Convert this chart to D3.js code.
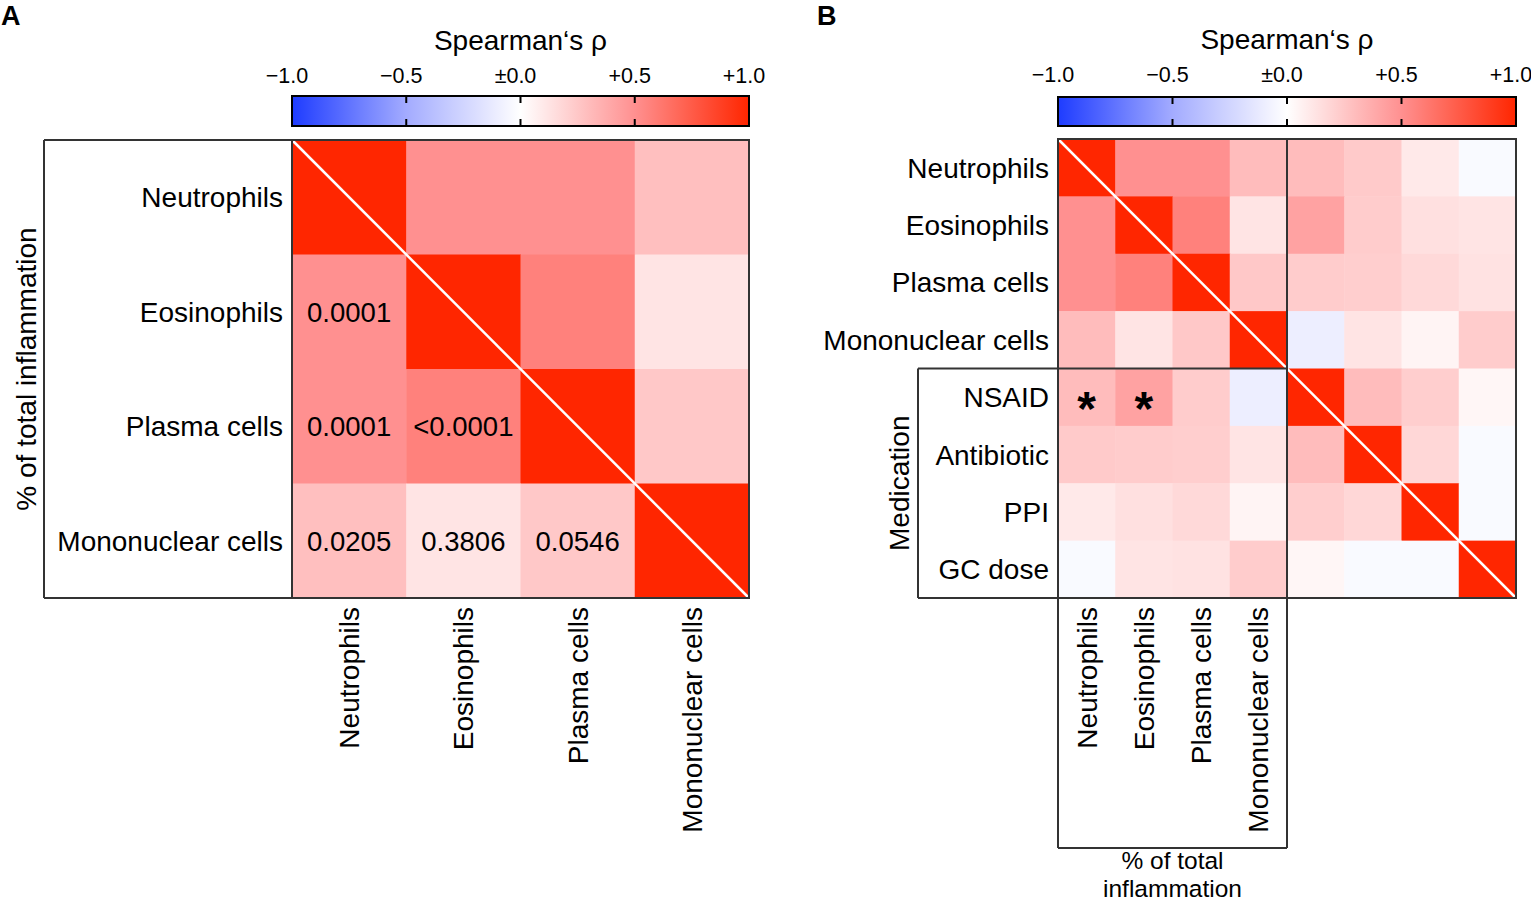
<!DOCTYPE html><html><head><meta charset="utf-8">
<title>Spearman correlation heatmaps</title>
<script src="https://cdn.jsdelivr.net/npm/d3@7"></script>
<style>
body { margin: 0; background: #fff; }
text { font-family: "Liberation Sans", Arial, sans-serif; fill: #000; }
</style>
</head>
<body>
<div id="chart"></div>
<script>
// panel A: cell types only
const cellsA = ["Neutrophils", "Eosinophils", "Plasma cells", "Mononuclear cells"];
const rhoA = [
	[1.00, 0.50, 0.50, 0.29],
	[0.50, 1.00, 0.57, 0.12],
	[0.50, 0.57, 1.00, 0.25],
	[0.29, 0.12, 0.25, 1.00],
];
const pA = [
	["", "", "", ""],
	["0.0001", "", "", ""],
	["0.0001", "<0.0001", "", ""],
	["0.0205", "0.3806", "0.0546", ""],
];

// panel B: cell types + medication
const varsB = ["Neutrophils", "Eosinophils", "Plasma cells", "Mononuclear cells", "NSAID", "Antibiotic", "PPI", "GC dose"];
const rhoB = [
	[1.00, 0.50, 0.50, 0.30, 0.30, 0.24, 0.10, -0.03],
	[0.50, 1.00, 0.57, 0.12, 0.42, 0.23, 0.14, 0.12],
	[0.50, 0.57, 1.00, 0.25, 0.23, 0.22, 0.17, 0.13],
	[0.30, 0.12, 0.25, 1.00, -0.10, 0.12, 0.05, 0.23],
	[0.30, 0.42, 0.23, -0.10, 1.00, 0.30, 0.22, 0.04],
	[0.24, 0.23, 0.22, 0.12, 0.30, 1.00, 0.18, -0.03],
	[0.10, 0.14, 0.17, 0.05, 0.22, 0.18, 1.00, -0.03],
	[-0.03, 0.12, 0.13, 0.23, 0.04, -0.03, -0.03, 1.00],
];
const starsB = [["NSAID", "Neutrophils"], ["NSAID", "Eosinophils"]];

// colour bar
const cbTicks = [-1, -0.5, 0, 0.5, 1];
const cbLabels = ["−1.0", "−0.5", "±0.0", "+0.5", "+1.0"];

const color = d3.scaleLinear()
	.domain([-1, -0.5, 0, 0.5, 1])
	.range(["#1e3cff", "#a3abff", "#ffffff", "#ff9090", "#ff2600"])
	.interpolate(d3.interpolateRgb);

const svg = d3.select("#chart").append("svg")
	.attr("width", 1531)
	.attr("height", 902);

const defs = svg.append("defs");
const grad = defs.append("linearGradient").attr("id", "cbgrad");
d3.range(0, 1.0001, 0.05).forEach(t => {
	grad.append("stop")
		.attr("offset", `${t * 100}%`)
		.attr("stop-color", color(t * 2 - 1));
});

function colorbar(x0, x1, y0, y1, titleY, labelY) {
	const x = d3.scaleLinear().domain([-1, 1]).range([x0, x1]);
	svg.append("rect")
		.attr("x", x0).attr("y", y0)
		.attr("width", x1 - x0).attr("height", y1 - y0)
		.attr("fill", "url(#cbgrad)")
		.attr("stroke", "#000").attr("stroke-width", 2);
	const inner = cbTicks.slice(1, -1);
	svg.append("g").selectAll("line")
		.data(inner.flatMap(v => [[v, y0, y0 + 7], [v, y1 - 7, y1]]))
		.join("line")
			.attr("x1", d => x(d[0])).attr("x2", d => x(d[0]))
			.attr("y1", d => d[1]).attr("y2", d => d[2])
			.attr("stroke", "#000").attr("stroke-width", 2);
	svg.append("g").selectAll("text")
		.data(cbTicks)
		.join("text")
			.attr("x", d => x(d) - 5)
			.attr("y", labelY)
			.attr("text-anchor", "middle")
			.attr("font-size", 21.5)
			.text((d, i) => cbLabels[i]);
	svg.append("text")
		.attr("x", (x0 + x1) / 2).attr("y", titleY)
		.attr("text-anchor", "middle")
		.attr("font-size", 28)
		.text("Spearman‘s ρ");
}

function heatmap(vars, rho, x0, x1, y0, y1) {
	const x = d3.scaleBand().domain(vars).range([x0, x1]);
	const y = d3.scaleBand().domain(vars).range([y0, y1]);
	const cells = [];
	rho.forEach((row, i) => row.forEach((v, j) => cells.push({ r: vars[i], c: vars[j], v })));
	svg.append("g").selectAll("rect")
		.data(cells)
		.join("rect")
			.attr("x", d => x(d.c))
			.attr("y", d => y(d.r))
			.attr("width", x.bandwidth() + 0.5)
			.attr("height", y.bandwidth() + 0.5)
			.attr("fill", d => color(d.v));
	// diagonal
	svg.append("line")
		.attr("x1", x0).attr("y1", y0).attr("x2", x1).attr("y2", y1)
		.attr("stroke", "#fff").attr("stroke-width", 2.5);
	svg.append("rect")
		.attr("x", x0).attr("y", y0)
		.attr("width", x1 - x0).attr("height", y1 - y0)
		.attr("fill", "none").attr("stroke", "#333").attr("stroke-width", 2);
	// row labels
	svg.append("g").selectAll("text")
		.data(vars)
		.join("text")
			.attr("x", x0 - 9)
			.attr("y", d => y(d) + y.bandwidth() / 2 + 10)
			.attr("text-anchor", "end")
			.attr("font-size", 28)
			.text(d => d);
	// column labels
	svg.append("g").selectAll("text")
		.data(vars.slice(0, 4))
		.join("text")
			.attr("transform", d => `translate(${x(d) + x.bandwidth() / 2 + 10}, ${y1 + 9}) rotate(-90)`)
			.attr("text-anchor", "end")
			.attr("font-size", 28)
			.text(d => d);
	return { x, y };
}

function line(x1, y1, x2, y2) {
	svg.append("line")
		.attr("x1", x1).attr("y1", y1).attr("x2", x2).attr("y2", y2)
		.attr("stroke", "#333").attr("stroke-width", 2);
}

// ---- panel A
svg.append("text").attr("x", 1).attr("y", 25)
	.attr("font-size", 27).attr("font-weight", "bold").text("A");
colorbar(292, 749, 96, 126, 50, 83);
const A = heatmap(cellsA, rhoA, 292, 749, 140, 598);
line(44, 140, 292, 140);
line(44, 598, 292, 598);
line(44, 140, 44, 598);
svg.append("g").selectAll("text")
	.data(pA.flatMap((row, i) => row.map((t, j) => ({ r: cellsA[i], c: cellsA[j], t }))).filter(d => d.t))
	.join("text")
		.attr("x", d => A.x(d.c) + A.x.bandwidth() / 2)
		.attr("y", d => A.y(d.r) + A.y.bandwidth() / 2 + 10)
		.attr("text-anchor", "middle")
		.attr("font-size", 27.5)
		.text(d => d.t);
svg.append("text")
	.attr("transform", "translate(36, 369) rotate(-90)")
	.attr("text-anchor", "middle")
	.attr("font-size", 28)
	.text("% of total inflammation");

// ---- panel B
svg.append("text").attr("x", 817).attr("y", 25)
	.attr("font-size", 27).attr("font-weight", "bold").text("B");
colorbar(1058, 1516, 97, 126, 49, 82);
const B = heatmap(varsB, rhoB, 1058, 1516, 139, 598);
const xm = B.x("NSAID"), ym = B.y("NSAID");
line(xm, 139, xm, 848);
line(918, ym, xm, ym);
line(918, ym, 918, 598);
line(918, 598, 1058, 598);
line(1058, 598, 1058, 848);
line(1058, 848, xm, 848);
svg.append("g").selectAll("text")
	.data(starsB)
	.join("text")
		.attr("x", d => B.x(d[1]) + B.x.bandwidth() / 2)
		.attr("y", d => B.y(d[0]) + B.y.bandwidth() / 2 + 28)
		.attr("text-anchor", "middle")
		.attr("font-size", 48)
		.attr("font-weight", "bold")
		.text("*");
svg.append("text")
	.attr("transform", `translate(909, ${(ym + 598) / 2}) rotate(-90)`)
	.attr("text-anchor", "middle")
	.attr("font-size", 28)
	.text("Medication");
const xTitle = svg.append("text")
	.attr("text-anchor", "middle").attr("font-size", 24.5);
xTitle.append("tspan")
	.attr("x", (1058 + xm) / 2).attr("y", 869)
	.text("% of total");
xTitle.append("tspan")
	.attr("x", (1058 + xm) / 2).attr("y", 896.5)
	.text("inflammation");
</script>
</body>
</html>
